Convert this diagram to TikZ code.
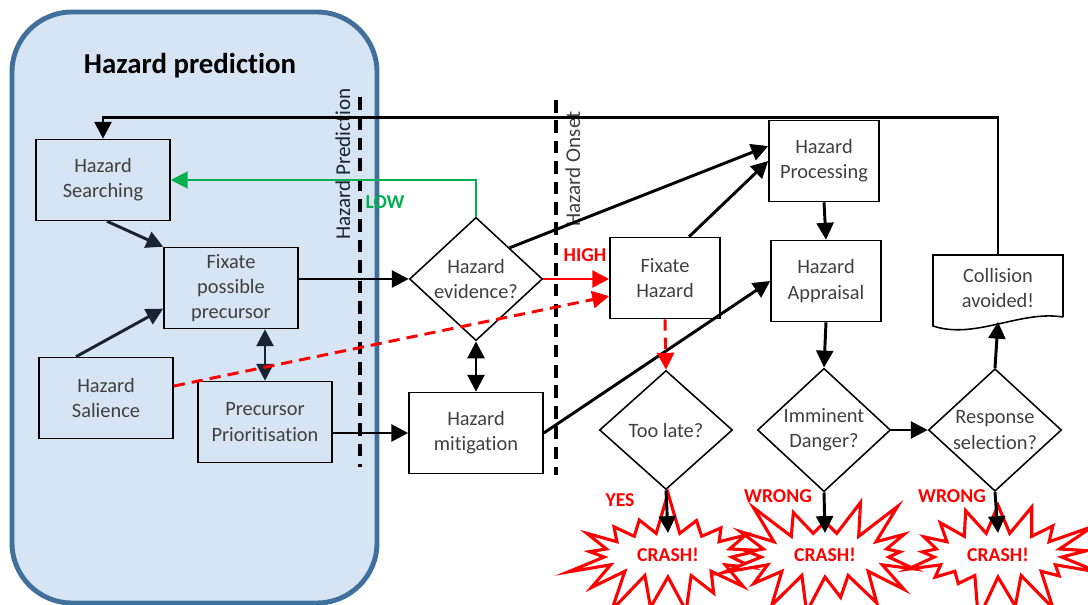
\documentclass[tikz,border=0pt]{standalone}
\usepackage{fontspec}
\setmainfont{Carlito}[Ligatures=NoCommon]
\usetikzlibrary{arrows.meta, shapes.geometric, shapes.symbols, calc}

\definecolor{panelfill}{RGB}{214,228,243}
\definecolor{paneledge}{RGB}{65,112,156}
\definecolor{lowgreen}{RGB}{0,176,80}
\definecolor{boxtext}{RGB}{64,64,64}
\definecolor{navyline}{RGB}{24,36,52}

\begin{document}
\begin{tikzpicture}[x=0.025cm, y=-0.025cm,
    box/.style={draw, line width=1.1pt, minimum width=3.35cm, minimum height=2.025cm,
        align=center, text=boxtext, font=\fontsize{14.5}{18}\selectfont, inner sep=2pt},
    slimbox/.style={box, minimum width=2.75cm},
    decision/.style={diamond, draw, line width=1.1pt, minimum width=3.325cm, minimum height=2.975cm,
        inner sep=0pt, align=center, text=boxtext, font=\fontsize{14.5}{18}\selectfont},
    crash/.style={starburst, draw=red, fill=white, line width=2.2pt, text=red,
        font=\fontsize{14}{16}\bfseries\selectfont, minimum width=5.4cm, minimum height=3.3cm,
        starburst points=17, starburst point height=1.1cm},
    tag/.style={font=\fontsize{14}{16}\bfseries\selectfont},
    arr/.style={line width=2.1pt, -{Triangle[length=12pt,width=12pt]}},
    twoway/.style={line width=2.1pt, {Triangle[length=12pt,width=12pt]}-{Triangle[length=12pt,width=12pt]}},
    phase/.style={line width=2.4pt, dash pattern=on 9pt off 5.5pt},
    redash/.style={red, line width=2.1pt, dash pattern=on 8pt off 5pt}
]
    \useasboundingbox (0,0) rectangle (1088,605);

    % Prediction panel
    \draw[fill=panelfill, draw=paneledge, line width=3.5pt, rounded corners=1.5cm] (12,12) rectangle (377,603);
    \node[font=\fontsize{20.5}{24}\bfseries\selectfont] (title) at (190,66) {Hazard prediction};

    % Phase boundaries
    \draw[phase] (360,97) -- (360,467);
    \draw[phase] (556,100) -- (556,475);
    \node[rotate=90, text=navyline, font=\fontsize{15}{18}\selectfont] (predlbl) at (343,164) {Hazard Prediction};
    \node[rotate=90, text=boxtext, font=\fontsize{15}{18}\selectfont] (onsetlbl) at (573,169) {Hazard Onset};

    % Process boxes
    \node[box] (search) at (103,180) {Hazard\\Searching};
    \node[box] (fixp) at (231,288) {Fixate\\possible\\precursor};
    \node[box] (sal) at (106,398) {Hazard\\Salience};
    \node[box] (prio) at (265,422) {Precursor\\Prioritisation};
    \node[box] (mitig) at (476,433) {Hazard\\mitigation};
    \node[slimbox] (fixh) at (665,278) {Fixate\\Hazard};
    \node[slimbox] (proc) at (824,161) {Hazard\\Processing};
    \node[slimbox] (appr) at (826,281) {Hazard\\Appraisal};

    % Decisions
    \node[decision] (evid) at (476,279) {Hazard\\evidence?};
    \node[decision] (late) at (666,430) {Too late?};
    \node[decision] (danger) at (824,430) {Imminent\\Danger?};
    \node[decision] (resp) at (995,430) {Response\\selection?};

    % Outcome document
    \node[minimum width=3.25cm, minimum height=1.675cm, align=center, text=boxtext,
        font=\fontsize{14.5}{18}\selectfont] (coll) at (998,288) {Collision\\avoided!};
    \draw[line width=1.1pt] (1063,317) -- (1063,255) -- (933,255) -- (933,326)
        .. controls (975,340) and (1020,310) .. (1063,317);

    % Crash outcomes
    \node[crash, random starburst=7] (crash1) at (668,555) {CRASH!};
    \node[crash, random starburst=23] (crash2) at (825,555) {CRASH!};
    \node[crash, random starburst=51] (crash3) at (998,555) {CRASH!};

    % Feedback loop and low evidence
    \draw[arr] (coll.north) -- ++(0,-137) -| (search.north);
    \draw[arr, lowgreen, line width=1.6pt] (evid.north) |- (search.east);
    \node[tag, text=lowgreen] (low) at (385,202) {LOW};

    % Prediction stage
    \draw[arr, navyline] ([xshift=0.1cm]search.south) -- (fixp.north west);
    \draw[arr, navyline] ([xshift=-0.75cm]sal.north) -- ($(fixp.west)!0.5!(fixp.south west)$);
    \draw[twoway, navyline] (prio.north |- fixp.south) -- (prio.north);
    \draw[arr] (fixp.east |- evid.west) -- (evid.west);
    \draw[arr] (prio.east |- mitig.west) -- (mitig.west);
    \draw[twoway] (evid.south) -- (mitig.north);

    % Onset stage
    \draw[arr] (evid.north east) -- (proc.165);
    \draw[arr, red] (evid.east) -- (evid.east -| fixh.west);
    \node[tag, text=red] (high) at (585,255) {HIGH};
    \draw[redash, -{Triangle[length=12pt,width=12pt]}] (sal.10) -- (fixh.198);
    \draw[arr] ([xshift=0.6cm]fixh.north) -- (proc.west);
    \draw[arr] (mitig.east) -- (appr.west);
    \draw[redash, -{Triangle[length=12pt,width=12pt]}] (fixh.south) -- (late.north);
    \draw[arr] (proc.south) -- (appr.north);
    \draw[arr] (appr.south) -- (danger.north);
    \draw[arr] (danger.east) -- (resp.west);
    \draw[arr] (resp.north) -- (coll.south);

    % Failure branches
    \draw[arr] (late.south) -- ([yshift=0.55cm]crash1.center);
    \draw[arr] (danger.south) -- ([yshift=0.55cm]crash2.center);
    \draw[arr] (resp.south) -- ([yshift=0.55cm]crash3.center);
    \node[tag, text=red] (yes) at (620,500) {YES};
    \node[tag, text=red] (wrong1) at (778,496) {WRONG};
    \node[tag, text=red] (wrong2) at (952,496) {WRONG};

\end{tikzpicture}
\end{document}
